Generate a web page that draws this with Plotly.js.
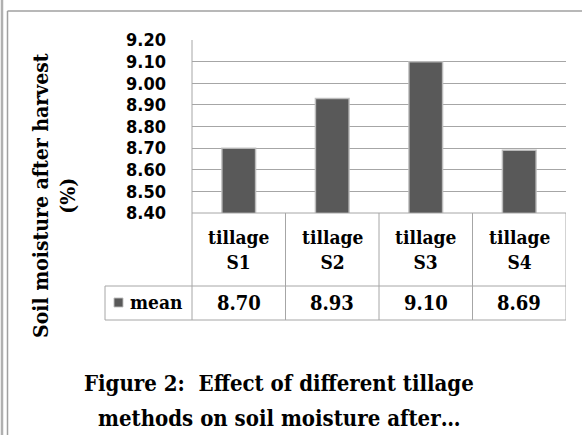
<!DOCTYPE html>
<html>
<head>
<meta charset="utf-8">
<script src="https://cdn.plot.ly/plotly-3.0.1.min.js"></script>
<style>html,body{margin:0;padding:0;background:#fff;}#chart{width:582px;height:435px;}</style>
</head>
<body>
<div id="chart"></div>
<script>
const categories = ["tillage S1", "tillage S2", "tillage S3", "tillage S4"];
const meanValues = [8.70, 8.93, 9.10, 8.69];
const seriesName = "mean";
const yTickValues = [8.40, 8.50, 8.60, 8.70, 8.80, 8.90, 9.00, 9.10, 9.20];
const titleLines = ["Figure 2:  Effect of different tillage", "methods on soil moisture after\u2026"];
const yTitleLines = ["Soil moisture after harvest", "(%)"];

const W = 582, H = 435, L = 192, R = 566, T = 40, B = 213;
const px = x => (x - L) / (R - L);
const py = y => (B - y) / (B - T);

const serif = "DejaVu Serif Condensed, DejaVu Serif, serif";
const gridC = "#a6a6a6";

const trace = {
  type: "bar",
  x: categories,
  y: meanValues,
  name: seriesName,
  marker: {color: "#595959", line: {color: "rgba(190,190,190,0.9)", width: 1.5}},
  hoverinfo: "skip"
};

const shapes = [];
const line = (x0, y0, x1, y1, xref, color, w) => shapes.push({type: "line", xref: xref || "paper", yref: "paper", x0, y0, x1, y1, line: {color: color || gridC, width: w || 1}});

// outer frame lines
line(px(2), py(-5), px(2), py(440), "paper", "#b0b0b0", 2.5);
line(px(7.5), py(11), px(7.5), py(440), "paper", "#a0a0a0", 1.5);
line(px(7.5), py(11), px(590), py(11), "paper", "#a0a0a0", 1.5);

// data table
const rowMid = 286, rowBot = 320;
line(0, py(B), 1, py(B));
line(px(105), py(rowMid), 1, py(rowMid));
line(px(105), py(rowBot), 1, py(rowBot));
line(0, py(T), 0, py(rowMid));
line(px(105), py(rowMid), px(105), py(rowBot));
line(0, py(rowMid), 0, py(rowBot));
for (let i = 0; i < categories.length; i++) {
  shapes.push({type: "line", xref: "x", yref: "paper", x0: i + 0.5, x1: i + 0.5, y0: py(B), y1: py(rowBot), line: {color: gridC, width: 1}});
}
// legend key square
shapes.push({type: "rect", xref: "paper", yref: "paper", x0: px(114), x1: px(123), y0: py(307), y1: py(298), fillcolor: "#595959", line: {color: "rgba(190,190,190,0.9)", width: 1}});

const tf = {family: serif, size: 19, color: "#000", weight: "bold"};
const annotations = [];
categories.forEach((c, i) => {
  annotations.push({xref: "x", yref: "paper", x: c, y: py(249), text: c.replace(" ", "<br>"), showarrow: false, font: tf, yanchor: "middle"});
  annotations.push({xref: "x", yref: "paper", x: c, y: py(303), text: meanValues[i].toFixed(2), showarrow: false, font: {family: serif, size: 20, color: "#000", weight: "bold"}, yanchor: "middle"});
});
annotations.push({xref: "paper", yref: "paper", x: px(128), y: py(302), xanchor: "left", yanchor: "middle", text: seriesName, showarrow: false, font: tf});
annotations.push({xref: "paper", yref: "paper", x: px(54), y: py(196), xanchor: "center", yanchor: "middle", textangle: -90, text: yTitleLines.join("<br>"), showarrow: false, font: {family: serif, size: 21, color: "#000", weight: "bold"}});
annotations.push({xref: "paper", yref: "paper", x: px(279), y: py(383), xanchor: "center", yanchor: "middle", text: titleLines[0], showarrow: false, font: {family: serif, size: 22, color: "#000", weight: "bold"}});
annotations.push({xref: "paper", yref: "paper", x: px(279), y: py(418), xanchor: "center", yanchor: "middle", text: titleLines[1], showarrow: false, font: {family: serif, size: 22, color: "#000", weight: "bold"}});

const layout = {
  width: W, height: H,
  margin: {l: L, r: W - R, t: T, b: H - B, pad: 0},
  paper_bgcolor: "#fff", plot_bgcolor: "#fff",
  showlegend: false,
  bargap: 0.64,
  xaxis: {type: "category", showticklabels: false, ticks: "", showgrid: false, zeroline: false, showline: false, range: [-0.5, 3.5], fixedrange: true},
  yaxis: {range: [8.4, 9.2], tickvals: yTickValues, ticktext: yTickValues.map(v => v.toFixed(2)), showgrid: true, gridcolor: gridC, gridwidth: 1, zeroline: false, showline: false, ticks: "", ticklabelstandoff: 25, tickfont: {family: "DejaVu Sans Condensed, DejaVu Sans, sans-serif", size: 18, color: "#000", weight: "bold"}, fixedrange: true},
  shapes, annotations
};

Plotly.newPlot("chart", [trace], layout, {staticPlot: true, displayModeBar: false});
</script>
</body>
</html>
